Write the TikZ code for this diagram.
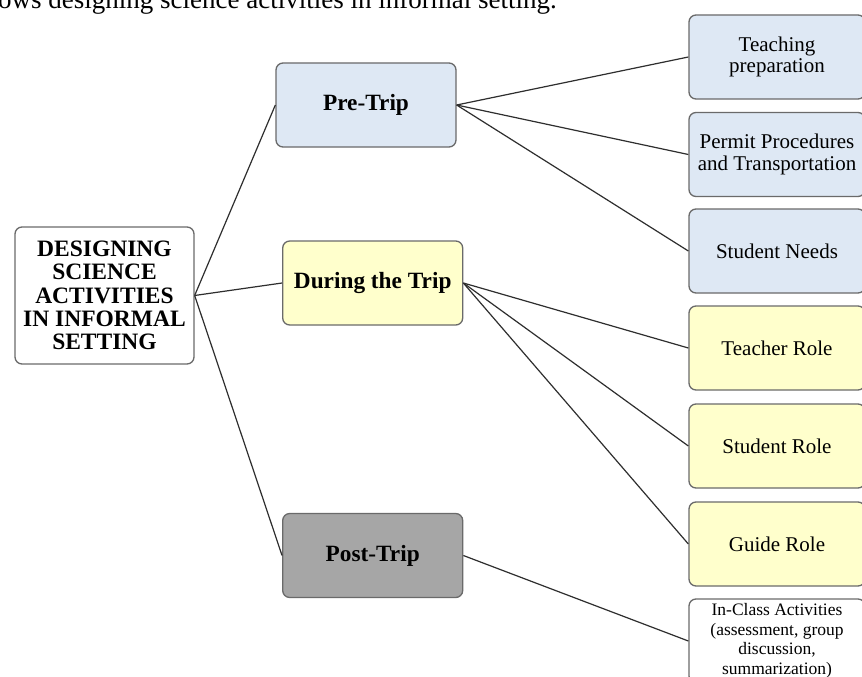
\documentclass[tikz,border=0pt]{standalone}
\usepackage{fontspec}
\setmainfont{Liberation Serif}
\definecolor{boxblue}{HTML}{DEE8F4}
\definecolor{boxyellow}{HTML}{FFFFCC}
\definecolor{boxgray}{HTML}{A6A6A6}
\definecolor{edgegray}{HTML}{6A6A6A}
\definecolor{linecol}{HTML}{2E2E2E}
\tikzset{
  box/.style={draw=edgegray, line width=1.3pt, rounded corners=7pt, align=center, inner sep=0pt},
  mainbox/.style={box, fill=white, minimum width=179pt, minimum height=137pt, font=\fontsize{23.5}{23.25}\selectfont\bfseries},
  phase/.style={box, minimum width=180pt, minimum height=84pt, font=\fontsize{23.3}{25}\selectfont\bfseries},
  leaf/.style={box, minimum width=176pt, minimum height=84pt, font=\fontsize{21}{21.5}\selectfont},
  smallleaf/.style={box, fill=white, minimum width=176pt, minimum height=84pt, font=\fontsize{17.5}{19.5}\selectfont},
  conn/.style={draw=linecol, line width=1.2pt},
}
\begin{document}
\begin{tikzpicture}[x=1pt,y=-1pt]
\useasboundingbox (0,0) rectangle (862,677);
\clip (0,0) rectangle (862,677);
\fill[white] (0,0) rectangle (862,677);

\node[anchor=base west, inner sep=0pt, font=\fontsize{27}{30}\selectfont] (caption) at (-2,8.5) {ows designing science activities in informal setting.};

\node[mainbox] (main) at (104.5,295.5) {DESIGNING\\SCIENCE\\ACTIVITIES\\IN INFORMAL\\SETTING};

\node[phase, fill=boxblue] (pre) at (366,105) {Pre-Trip};
\node[phase, fill=boxyellow] (during) at (372.7,283) {During the Trip};
\node[phase, fill=boxgray] (post) at (372.7,555.5) {Post-Trip};

\node[leaf, fill=boxblue] (teach) at (777,57) {Teaching\\preparation};
\node[leaf, fill=boxblue] (permit) at (777,154.5) {Permit Procedures\\and Transportation};
\node[leaf, fill=boxblue] (needs) at (777,251) {Student Needs};
\node[leaf, fill=boxyellow] (trole) at (777,348) {Teacher Role};
\node[leaf, fill=boxyellow] (srole) at (777,446) {Student Role};
\node[leaf, fill=boxyellow] (grole) at (777,544) {Guide Role};
\node[smallleaf] (inclass) at (777,641) {In-Class Activities\\(assessment, group\\discussion,\\summarization)};

\draw[conn] (main.east) -- (pre.west);
\draw[conn] (main.east) -- (during.west);
\draw[conn] (main.east) -- (post.west);
\draw[conn] (pre.east) -- (teach.west);
\draw[conn] (pre.east) -- (permit.west);
\draw[conn] (pre.east) -- (needs.west);
\draw[conn] (during.east) -- (trole.west);
\draw[conn] (during.east) -- (srole.west);
\draw[conn] (during.east) -- (grole.west);
\draw[conn] (post.east) -- (inclass.west);
\end{tikzpicture}
\end{document}
